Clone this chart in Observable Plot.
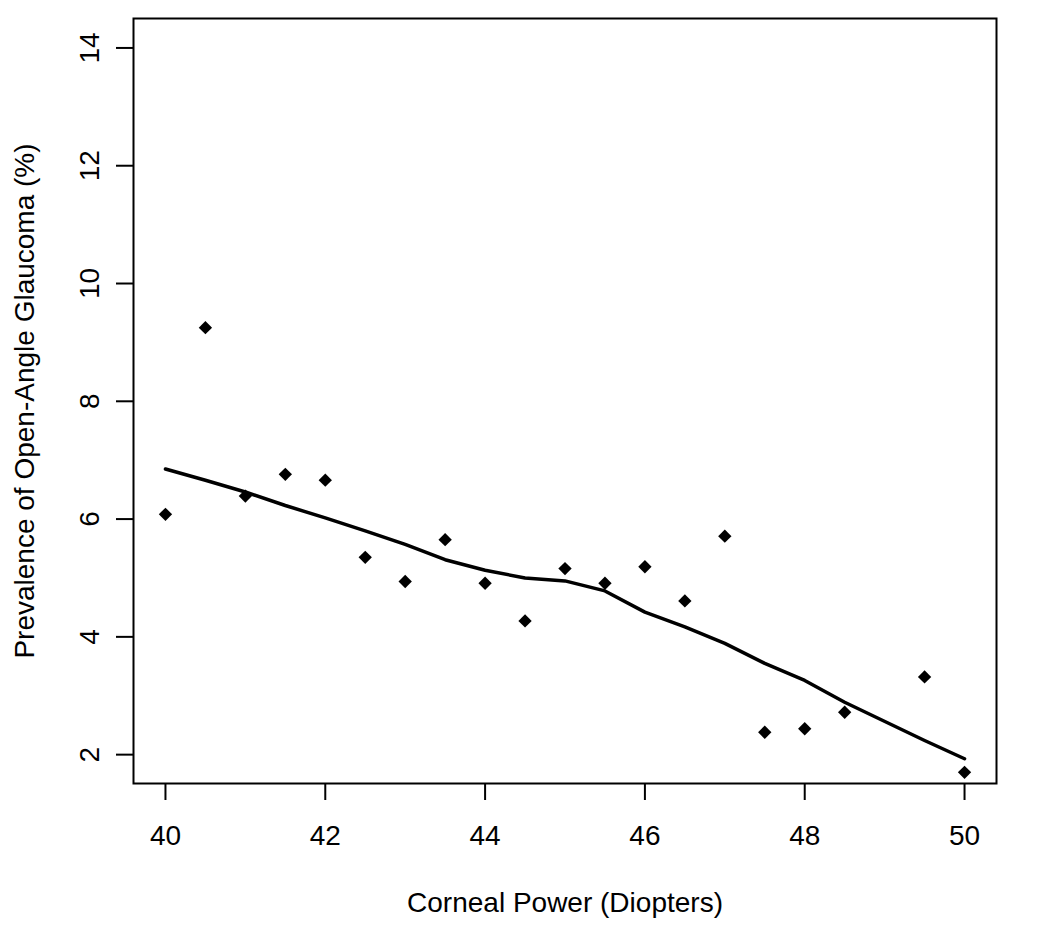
<!DOCTYPE html>
<html>
<head>
<meta charset="utf-8">
<script src="https://cdn.jsdelivr.net/npm/d3@7"></script>
<script src="https://cdn.jsdelivr.net/npm/@observablehq/plot@0.6"></script>
<style>
  html, body { margin: 0; padding: 0; background: #fff; overflow: hidden; }
  #chart svg { display: block; }
</style>
</head>
<body>
<div id="chart"></div>
<script>
// Corneal power (diopters) and observed prevalence of open-angle glaucoma (%)
const cornealPower = [40, 40.5, 41, 41.5, 42, 42.5, 43, 43.5, 44, 44.5, 45, 45.5, 46, 46.5, 47, 47.5, 48, 48.5, 49.5, 50];
const prevalence   = [6.08, 9.25, 6.39, 6.76, 6.66, 5.35, 4.94, 5.65, 4.91, 4.27, 5.16, 4.91, 5.19, 4.61, 5.71, 2.38, 2.44, 2.72, 3.32, 1.70];
// Smoothed (lowess) curve values at the same corneal powers
const smoothed     = [6.85, 6.66, 6.46, 6.23, 6.02, 5.80, 5.57, 5.31, 5.13, 5.00, 4.95, 4.78, 4.42, 4.17, 3.89, 3.55, 3.26, 2.89, 2.24, 1.93];

const xTicks = [40, 42, 44, 46, 48, 50];
const yTicks = [2, 4, 6, 8, 10, 12, 14];
const xTitle = "Corneal Power (Diopters)";
const yTitle = "Prevalence of Open-Angle Glaucoma (%)";

const points = cornealPower.map((x, i) => ({x, y: prevalence[i]}));
const curve = cornealPower.map((x, i) => ({x, y: smoothed[i]}));

const chart = Plot.plot({
  width: 1050,
  height: 926,
  marginLeft: 133,
  marginRight: 54,
  marginTop: 18,
  marginBottom: 143,
  style: {fontFamily: "'Liberation Sans', Arial, Helvetica, sans-serif", fontSize: "28px", color: "black", background: "white"},
  x: {domain: [39.6, 50.4]},
  y: {domain: [1.51, 14.5]},
  marks: [
    Plot.frame({stroke: "black", strokeWidth: 2}),
    Plot.axisX({ticks: xTicks, tickSize: 17, tickPadding: 25, strokeWidth: 2, label: null, fontSize: 28, tickFormat: d => String(d)}),
    Plot.axisY({ticks: yTicks, tickSize: 17, tickPadding: 18, tickRotate: -90, strokeWidth: 2, label: null, fontSize: 28, tickFormat: d => String(d)}),
    Plot.line(curve, {x: "x", y: "y", stroke: "black", strokeWidth: 3.5}),
    Plot.dot(points, {x: "x", y: "y", symbol: "diamond2", r: 6, fill: "black", stroke: "none"}),
    Plot.text([xTitle], {frameAnchor: "bottom", dy: 128, lineAnchor: "bottom", textAnchor: "middle", fontSize: 28, fill: "black"}),
    Plot.text([yTitle], {frameAnchor: "left", dx: -100, rotate: -90, lineAnchor: "bottom", textAnchor: "middle", fontSize: 28, fill: "black"})
  ]
});
document.getElementById("chart").appendChild(chart);
</script>
</body>
</html>
